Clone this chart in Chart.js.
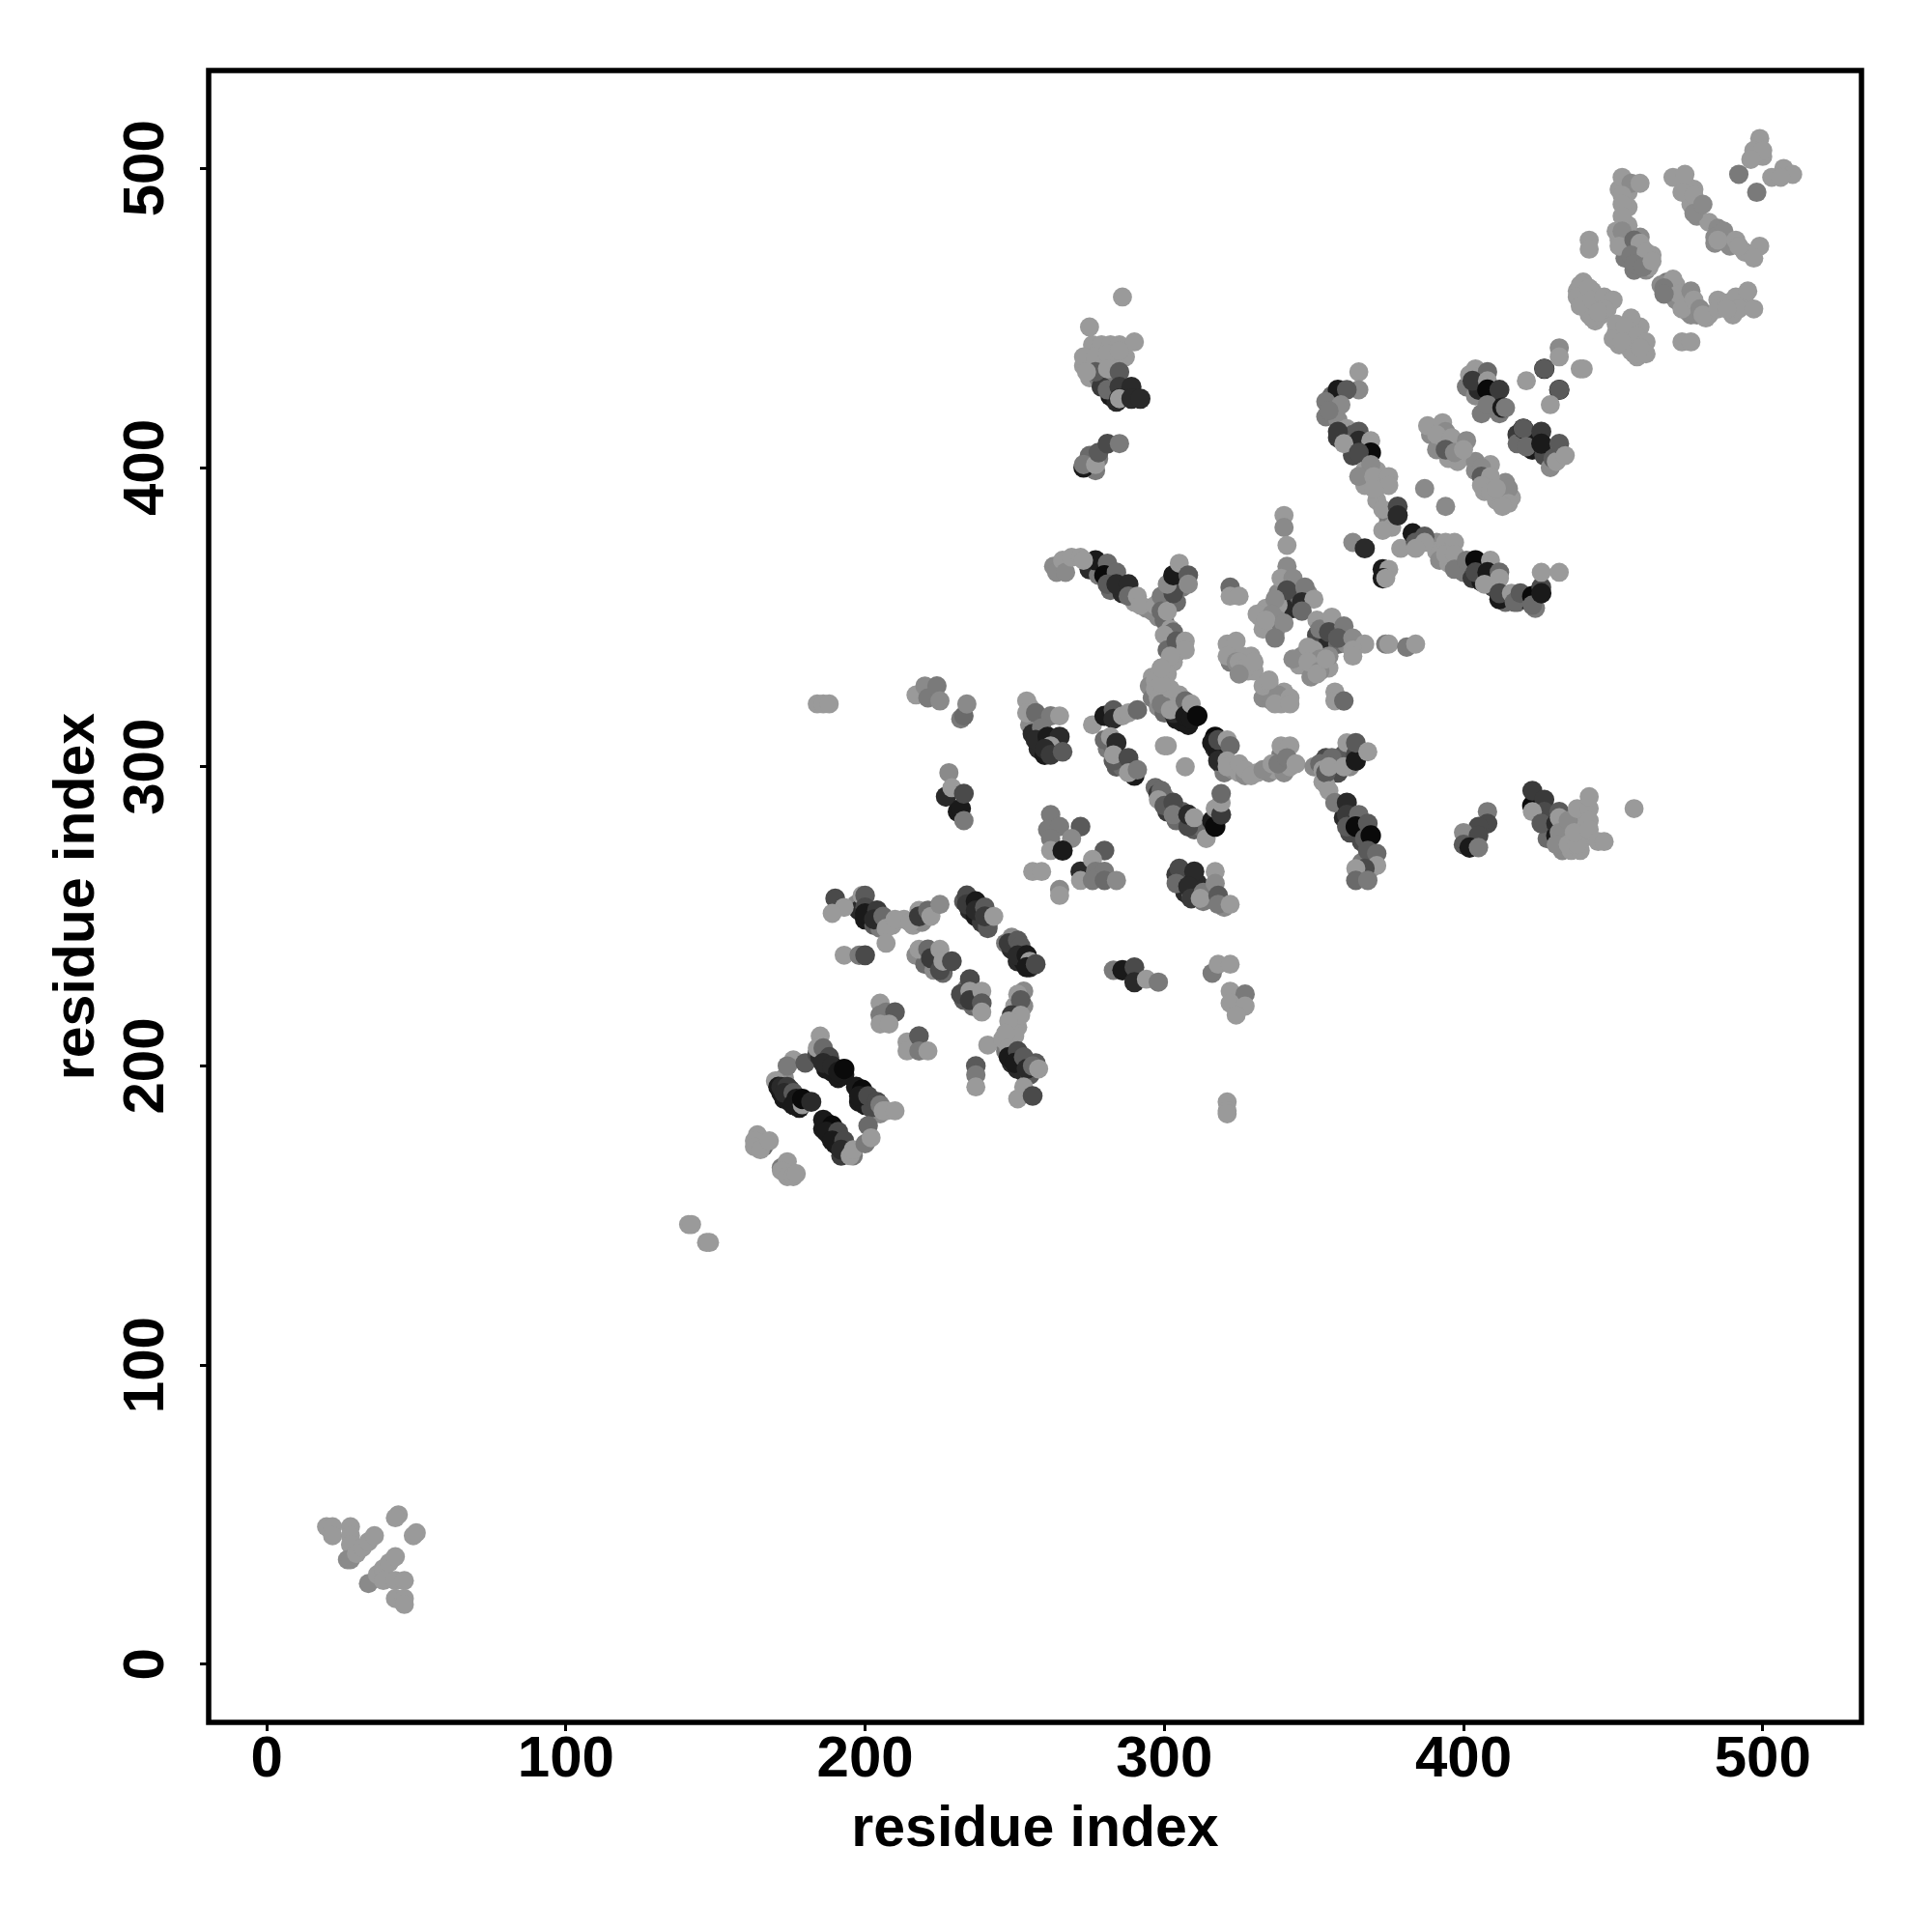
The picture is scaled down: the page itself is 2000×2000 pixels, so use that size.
<!DOCTYPE html>
<html>
<head>
<meta charset="utf-8">
<style>html,body{margin:0;padding:0;background:#fff}canvas{display:block}</style>
<script src="https://cdn.jsdelivr.net/npm/chart.js@4"></script>
</head>
<body>
<canvas id="c" width="2000" height="2000" style="width:2000px;height:2000px"></canvas>
<script>
// each contact: [residue x, residue y, coupling score 0..9]
const tickValues = [0, 100, 200, 300, 400, 500];
const axisLabel = "residue index";

const nTerminal = [[44,50,0],[43,49,0],[50,44,0],[49,43,0],[20,46,0],[22,46,0],[22,43,0],[28,46,0],[28,43,0],[28,40,0],[27,35,1],[28,35,1],[30,37,0],[32,39,0],[34,41,0],[36,43,0],[34,27,1],[37,30,0],[39,32,0],[41,34,0],[43,36,0],[39,28,0],[43,28,0],[46,28,0],[43,22,0],[46,22,0],[46,20,0]];
const isolatedLow = [[141,147,0],[142,147,0],[147,141,0],[148,141,0],[321,188,0],[321,185,0],[321,184,0]];
const lowHelix = [[166,173,3],[164,177,0],[163,175,0],[163,173,0],[165,172,0],[168,175,0],[172,166,2],[174,168,0],[172,165,0],[174,163,0],[176,163,0],[177,164,0]];
const sheetAFill = [[171,195,1],[173,196,1],[173,189,8],[175,188,8],[178,186,8],[172,191,8],[175,192,6]];
const sheetA = [[176,202,0],[174,200,2],[180,201,4],[170,195,0],[171,193,8],[172,193,7],[174,193,6],[173,191,7],[176,191,4],[177,189,8],[176,187,8],[179,187,0],[179,189,9],[182,188,7]];
const sheetBFill = [[184,204,5],[185,203,7],[187,199,8],[189,198,8],[191,196,8],[193,197,8],[188,201,8]];
const sheetB = [[185,210,0],[184,206,0],[186,206,3],[188,203,5],[186,201,7],[189,200,7],[191,198,8],[193,199,9]];
const sheetCFill = [[197,193,8],[198,188,8],[200,187,8],[203,185,3],[205,184,1],[202,186,5]];
const sheetC = [[199,192,9],[198,190,8],[201,190,5],[204,188,5],[205,187,2],[206,185,0],[207,185,0],[210,185,0]];
const sheetDFill = [[186,182,8],[186,179,8],[188,177,8],[190,174,8],[192,170,6],[194,171,3],[196,170,2]];
const sheetD = [[187,181,8],[189,180,9],[187,178,8],[191,178,5],[189,175,8],[193,175,5],[192,172,7],[195,170,0],[196,172,0],[201,180,3],[200,174,2],[202,176,0]];
const arcLeftFill = [[197,254,1],[198,252,7],[200,249,8],[203,247,4],[205,246,2],[207,248,1],[209,247,0],[213,249,0],[216,247,0],[219,248,1]];
const arcLeft = [[190,256,5],[193,253,0],[189,251,0],[199,257,0],[200,257,4],[200,253,5],[200,251,8],[204,252,6],[203,249,7],[206,250,3],[207,246,0],[210,249,0],[215,248,0],[218,252,0],[218,250,6],[221,252,3],[222,250,0],[225,254,1],[207,241,0],[193,237,0],[198,237,2],[200,237,5]];
const arcMiddleFill = [[233,255,4],[235,252,7],[237,250,8],[239,248,6],[241,246,4],[217,237,1],[220,234,3],[223,232,1],[226,231,3]];
const arcMiddle = [[218,239,0],[221,239,3],[222,236,6],[225,232,5],[225,239,0],[226,235,0],[229,235,5],[234,257,5],[234,254,6],[237,255,8],[237,252,7],[240,253,4],[241,247,4],[240,250,6],[243,250,0]];
const arcRightFill = [[247,241,2],[249,239,7],[251,235,7],[253,235,8],[255,233,7],[234,226,2],[233,222,4],[236,220,3],[237,221,2]];
const arcRight = [[249,243,1],[248,241,6],[251,242,4],[252,240,4],[251,237,7],[254,237,8],[255,235,0],[254,233,8],[257,234,5],[235,229,5],[232,224,5],[235,225,0],[235,222,6],[239,225,0],[239,221,4],[239,218,0]];
const turnAFill = [[250,220,0],[253,220,1],[251,213,0],[248,209,0]];
const turnA = [[253,225,1],[251,224,0],[252,222,4],[249,217,6],[252,217,0],[248,215,0],[250,210,0],[247,207,0],[241,207,0]];
const turnB = [[205,221,0],[205,217,2],[207,218,2],[210,218,4],[205,214,0],[208,214,0],[214,208,0],[214,205,0],[218,210,4],[218,205,2],[221,205,0],[237,200,4],[237,197,2],[237,193,0]];
const sheetEFill = [[247,205,2],[249,201,7],[251,199,7],[253,198,7],[255,197,4],[246,209,0],[247,211,0]];
const sheetE = [[248,206,0],[248,203,8],[251,205,5],[250,201,8],[253,203,4],[254,199,7],[257,201,4],[256,200,3],[258,199,0],[253,193,0],[251,189,0],[256,190,5]];
const bridgeA = [[184,321,0],[186,321,0],[188,321,0],[217,324,0],[220,327,1],[221,323,2],[224,327,2],[225,322,1],[232,316,2],[233,317,3],[234,321,1],[228,298,1],[227,290,7],[229,293,0],[231,285,8],[232,286,8],[233,291,5],[233,282,2]];
const clusterAFill = [[255,320,0],[255,314,1],[256,311,7],[258,306,7],[260,304,8],[262,306,7],[264,307,7]];
const clusterA = [[254,322,0],[254,318,0],[257,318,3],[262,317,2],[265,317,0],[259,313,2],[257,309,7],[261,310,8],[265,310,7],[262,307,0],[260,306,7],[262,304,6],[266,305,4]];
const clusterBFill = [[281,306,2],[283,306,3],[285,303,4],[284,300,4],[286,300,3],[289,300,4],[290,297,8]];
const clusterB = [[276,314,0],[280,317,8],[283,319,4],[283,316,7],[286,317,0],[288,318,0],[291,319,3],[280,309,3],[282,310,0],[284,308,7],[283,302,4],[283,304,0],[288,303,5],[288,298,0],[291,299,2]];
const clusterCFill = [[297,293,3],[300,290,2],[301,285,6],[304,282,3],[306,285,4],[310,279,4],[312,280,3]];
const clusterC = [[298,291,6],[299,292,3],[298,289,0],[300,287,4],[303,288,5],[303,284,2],[308,280,5],[308,284,7],[310,283,0],[314,276,0],[316,282,8],[317,280,9],[317,286,0],[319,284,6],[319,288,0],[319,291,3]];
const upperArcFill = [[296,330,0],[295,327,1],[296,323,2],[298,320,1],[300,318,3],[301,323,1],[303,322,0],[305,324,0],[304,316,8],[306,315,8],[308,314,8],[300,330,0]];
const upperArc = [[302,336,0],[299,333,0],[297,329,0],[297,326,0],[298,323,0],[299,321,2],[302,326,0],[303,318,7],[302,319,0],[305,320,0],[307,322,3],[307,317,8],[309,316,8],[309,321,0],[311,317,9]];
const waveFill = [[317,306,7],[318,305,8],[319,301,7],[320,298,2],[323,299,1],[325,298,0],[327,297,1],[331,298,0],[335,298,1],[337,299,0],[340,298,1],[342,300,0],[339,304,2]];
const wave = [[317,310,9],[316,308,8],[318,309,5],[321,309,0],[322,307,3],[318,302,7],[321,302,0],[321,300,0],[325,301,0],[327,299,0],[329,297,0],[333,299,1],[336,301,0],[338,301,2],[339,307,0],[342,307,0],[341,303,2],[344,301,0],[300,307,0],[301,307,0],[307,300,0]];
const rightArcFill = [[354,303,5],[356,301,6],[358,302,5],[360,304,4],[362,300,1],[353,295,0],[358,298,5],[350,300,1],[354,294,0],[360,283,7],[362,278,5],[366,275,5],[368,270,0],[366,268,2],[369,266,1]];
const rightArc = [[352,301,3],[353,299,0],[354,298,4],[356,303,3],[355,300,0],[360,300,0],[361,308,0],[364,304,5],[364,302,8],[364,308,4],[368,305,0],[355,292,0],[357,288,2],[361,288,7],[361,284,6],[361,280,4],[365,284,3],[364,280,9],[368,281,4],[367,276,4],[369,277,9],[368,272,4],[371,271,3],[371,267,0],[367,266,5],[364,266,0],[364,262,3],[368,262,2]];
const midLeft = [[262,284,2],[261,279,2],[265,280,2],[272,280,4],[262,276,2],[269,276,1],[262,272,0],[266,272,8],[256,265,0],[259,265,0],[265,259,1],[265,257,0],[272,265,7],[272,262,0],[280,272,4],[276,269,0],[277,265,2],[280,265,2],[276,262,2],[280,262,3],[284,262,1]];
const midRightFill = [[304,264,6],[306,263,7],[307,258,7],[311,261,7],[309,257,0],[313,255,2],[320,253,1]];
const midRight = [[305,266,5],[304,261,3],[310,265,7],[308,260,7],[309,256,6],[313,258,2],[312,256,0],[317,265,0],[317,261,1],[318,257,4],[318,254,2],[322,254,0],[283,232,2],[286,232,8],[290,233,5],[290,228,7],[294,229,0],[298,228,2],[316,231,2],[318,234,0],[322,234,0],[322,225,0],[327,224,2],[322,221,0],[327,220,0],[324,217,0]];
const topIslandFill = [[273,434,0],[276,441,0],[278,439,0],[283,438,0],[275,430,0],[278,430,2],[280,428,0],[283,435,0],[287,437,0],[283,429,2],[279,427,6],[282,424,8],[284,422,7],[287,424,7],[277,399,2],[275,402,4],[275,404,3],[278,403,2]];
const topIsland = [[286,457,0],[275,447,0],[279,441,0],[282,441,0],[285,441,0],[290,442,0],[273,437,0],[277,437,0],[281,438,0],[285,439,0],[277,432,4],[274,432,0],[281,433,0],[285,432,4],[281,426,3],[285,427,6],[289,427,7],[285,423,8],[285,423,0],[289,423,7],[292,423,7],[273,400,8],[273,401,2],[277,401,0],[278,405,4],[281,408,5],[285,408,2]];
const upperStrandFill = [[263,367,1],[264,365,1],[266,369,0],[267,365,1],[269,370,0],[272,370,0],[275,366,7],[278,364,2],[282,359,3],[286,358,7],[290,355,0],[294,353,1],[296,352,1],[298,350,1],[300,349,3],[302,355,3],[304,355,3],[306,360,2],[302,346,0],[303,345,3],[304,338,1],[303,335,0],[301,331,0],[299,328,0]];
const upperStrand = [[277,369,8],[273,369,0],[281,368,3],[280,364,9],[284,365,3],[281,361,4],[284,361,7],[288,361,7],[288,357,3],[291,357,0],[292,354,0],[297,354,0],[299,357,2],[299,352,3],[301,352,0],[303,358,5],[301,361,1],[303,364,8],[305,368,0],[308,364,4],[308,361,1],[300,344,0],[301,339,3],[304,342,4],[307,342,0],[307,339,0],[302,337,0],[299,333,0]];
const centreFill = [[338,358,1],[342,357,2],[343,353,7],[345,357,3],[348,358,1],[338,354,0],[334,353,0],[332,350,0],[338,349,1],[335,346,1],[337,345,2],[333,346,0]];
const centre = [[340,384,0],[340,380,1],[341,374,0],[341,367,1],[339,363,0],[343,363,1],[341,359,5],[347,360,2],[346,355,7],[350,356,0],[346,352,3],[322,360,3],[322,357,0],[325,357,0],[337,356,1],[331,351,0],[336,351,1],[334,349,0],[340,348,1],[337,343,2]];
const centreEastFill = [[351,344,5],[353,343,5],[355,342,7],[358,341,3],[361,341,1],[363,340,0],[351,349,0],[322,338,0],[326,337,0],[328,332,0],[322,335,2],[330,332,0],[333,323,1],[336,322,1],[339,321,0],[340,325,0],[345,334,0],[349,330,1],[355,333,0],[346,337,1],[350,339,0]];
const centreEast = [[352,346,2],[356,350,0],[355,345,5],[360,347,2],[358,343,4],[363,343,1],[367,341,0],[363,339,0],[374,341,2],[375,341,0],[381,340,2],[384,341,0],[321,341,0],[324,342,0],[321,337,0],[327,335,0],[324,335,1],[329,337,0],[325,335,0],[327,333,0],[325,331,1],[330,335,0],[333,327,0],[335,328,0],[338,324,1],[337,321,0],[342,323,0],[342,321,0],[357,325,0],[357,322,0],[360,322,3],[343,336,1],[348,340,0],[352,336,1],[355,337,1],[348,335,0],[352,332,1],[351,331,0],[354,336,0],[335,329,0],[363,337,0]];
const longStrandFill = [[356,424,3],[355,420,2],[354,417,2],[358,416,1],[358,410,6],[361,413,0],[363,411,4],[363,404,5],[363,408,3],[367,399,0],[371,399,0],[367,394,0],[372,394,0],[371,389,0],[374,385,0],[375,382,2],[376,380,0]];
const longStrand = [[365,432,0],[365,426,1],[358,426,8],[361,426,4],[354,422,2],[359,421,1],[355,419,2],[358,412,6],[365,412,4],[365,409,7],[360,408,0],[369,409,0],[369,405,9],[365,405,5],[369,401,1],[365,397,1],[370,397,0],[375,397,0],[375,394,0],[370,393,0],[373,386,0],[378,387,5],[378,384,7],[373,379,0],[387,393,1],[394,387,1]];
const crossingFill = [[391,375,1],[391,372,0],[392,369,1],[395,368,0],[398,367,1],[400,365,2],[403,363,6],[406,362,8],[410,360,5],[414,355,3],[418,355,3],[421,356,9],[424,353,2],[412,356,8]];
const crossing = [[363,375,1],[367,373,7],[373,366,8],[375,366,0],[373,363,8],[374,363,0],[379,373,0],[383,378,8],[387,377,4],[384,375,4],[387,375,0],[384,373,0],[394,375,0],[397,375,0],[394,371,0],[397,371,0],[397,366,2],[401,369,2],[404,369,9],[404,365,5],[409,369,0],[408,365,8],[407,361,0],[412,365,3],[412,363,0],[412,358,5],[416,358,0],[417,355,3],[419,358,4],[423,355,3],[425,358,6],[423,357,9],[423,354,3],[426,360,5],[426,358,8],[426,365,0],[432,365,0]];
const upperRightFill = [[401,427,2],[404,424,1],[405,426,7],[410,424,8],[406,418,2],[412,418,2],[418,411,6],[418,408,3],[423,406,8],[427,404,5],[429,400,1],[423,410,8]];
const upperRight = [[404,433,0],[402,431,0],[408,432,3],[403,429,6],[408,429,0],[408,426,9],[412,426,6],[408,421,2],[413,420,8],[414,420,2],[421,429,0],[427,433,8],[427,433,4],[432,440,1],[432,437,0],[439,433,0],[440,433,0],[432,426,8],[432,426,4],[429,421,0],[420,413,8],[420,413,4],[421,407,3],[426,412,6],[426,408,8],[430,403,4],[431,402,0],[432,408,4],[434,404,0]];
const cluster400Fill = [[389,411,1],[392,408,3],[395,403,0],[391,406,1],[398,402,0],[404,402,1],[404,399,1],[407,392,0],[411,389,0],[413,391,0],[416,390,0],[414,395,1]];
const cluster400 = [[388,414,0],[393,415,0],[394,412,1],[391,411,0],[396,410,0],[401,409,1],[394,406,4],[397,405,1],[400,406,0],[409,401,0],[406,400,1],[406,397,4],[409,397,0],[406,394,0],[409,392,0],[415,393,1],[415,388,0],[413,387,0],[411,393,0]];
const spreadLowFill = [[428,282,6],[429,279,3],[433,276,2],[434,279,1],[436,280,1],[438,283,0],[440,276,0],[440,280,0],[433,272,1],[436,272,0],[439,272,0],[428,276,3]];
const spreadLow = [[408,285,2],[408,281,5],[405,280,5],[400,278,1],[405,277,5],[400,274,4],[402,273,8],[405,273,2],[423,287,9],[423,292,6],[427,289,6],[427,285,5],[423,285,0],[426,281,4],[431,277,8],[431,281,7],[432,285,4],[432,283,0],[432,278,1],[431,274,1],[435,274,0],[435,282,1],[438,274,0],[438,286,0],[437,278,0],[442,286,0],[442,290,0],[442,282,0],[442,279,0],[445,275,0],[447,275,0],[457,286,0]];
const cTermWestFill = [[438,459,0],[441,457,0],[440,454,0],[442,451,0],[445,455,0],[444,449,0],[446,451,0],[448,453,0],[440,462,0],[443,459,0],[451,445,0],[452,441,0],[455,444,0],[456,441,0],[459,443,0],[455,447,0],[459,447,0],[460,440,0],[456,439,0],[458,437,0],[451,448,0]];
const cTermWest = [[442,476,0],[442,473,0],[439,461,0],[438,457,0],[442,460,0],[439,454,0],[443,456,0],[447,457,0],[450,456,0],[443,450,0],[447,453,0],[445,452,0],[456,450,0],[450,443,0],[454,447,0],[458,444,0],[453,442,0],[461,442,0],[457,438,0],[461,438,0],[459,440,0]];
const cTermStrandFill = [[452,493,0],[455,492,0],[455,487,0],[452,476,0],[454,470,2],[455,473,2],[458,472,1],[458,469,2],[461,466,1],[462,467,0],[457,466,2],[460,473,0],[463,471,0],[459,477,1],[455,481,0]];
const cTermStrand = [[453,497,0],[456,495,1],[459,495,0],[453,491,0],[453,488,0],[453,484,0],[451,479,0],[453,479,1],[452,474,0],[457,476,3],[459,475,0],[456,471,2],[461,472,0],[457,468,2],[460,467,2],[463,469,0]];
const cTermEastFill = [[474,495,0],[476,488,0],[478,484,1],[482,482,0],[485,480,1],[484,475,1],[489,474,1],[494,472,0],[477,493,0],[500,504,0]];
const cTermEast = [[470,497,0],[474,498,0],[473,492,0],[477,491,0],[477,485,1],[480,488,1],[484,477,1],[487,479,1],[485,476,0],[491,476,0],[492,474,0],[499,474,0],[497,470,0],[492,498,2],[498,492,2],[499,510,0],[497,506,0],[500,506,0],[496,503,0],[507,500,0],[503,497,0],[510,498,0],[506,497,0]];
const cTermWingFill = [[468,462,2],[466,461,1],[469,458,2],[471,461,0],[471,456,1],[474,457,1],[475,452,0],[478,451,1],[482,451,0],[485,456,0],[490,451,0],[494,455,0],[481,450,0],[476,451,1]];
const cTermWing = [[470,463,0],[467,460,2],[472,458,0],[476,459,1],[467,458,2],[473,453,0],[477,456,0],[479,453,1],[480,451,0],[485,453,0],[488,455,0],[491,457,0],[495,459,0],[492,453,0],[488,453,0],[497,453,0],[473,442,0],[476,442,0]];

const contacts = [].concat(nTerminal, isolatedLow, lowHelix, sheetAFill, sheetA, sheetBFill, sheetB, sheetCFill, sheetC, sheetDFill, sheetD, arcLeftFill, arcLeft, arcMiddleFill, arcMiddle, arcRightFill, arcRight, turnAFill, turnA, turnB, sheetEFill, sheetE, bridgeA, clusterAFill, clusterA, clusterBFill, clusterB, clusterCFill, clusterC, upperArcFill, upperArc, waveFill, wave, rightArcFill, rightArc, midLeft, midRightFill, midRight, topIslandFill, topIsland, upperStrandFill, upperStrand, centreFill, centre, centreEastFill, centreEast, longStrandFill, longStrand, crossingFill, crossing, upperRightFill, upperRight, cluster400Fill, cluster400, spreadLowFill, spreadLow, cTermWestFill, cTermWest, cTermStrandFill, cTermStrand, cTermEastFill, cTermEast, cTermWingFill, cTermWing);

function shade(score){ const g = 154 - 16 * score; return 'rgb(' + g + ',' + g + ',' + g + ')'; }

const framePlugin = {
  id: 'frame',
  afterDraw(chart){
    const a = chart.chartArea, ctx = chart.ctx;
    ctx.save();
    ctx.strokeStyle = '#000';
    ctx.lineWidth = 5.5;
    ctx.strokeRect(a.left, a.top, a.right - a.left, a.bottom - a.top);
    ctx.restore();
  }
};

const tickFont = { family: '"Liberation Sans"', size: 60, weight: 'bold' };
const titleFont = { family: '"Liberation Sans"', size: 59, weight: 'bold' };
const gridOpts = { display: true, drawOnChartArea: false, drawTicks: true, tickLength: 9, tickWidth: 3, tickColor: '#000' };

new Chart(document.getElementById('c'), {
  type: 'scatter',
  data: { datasets: [{
    data: contacts.map(p => ({ x: p[0], y: p[1] })),
    pointBackgroundColor: contacts.map(p => shade(p[2])),
    pointBorderWidth: 0,
    pointRadius: contacts.map(p => 9.9 + 0.08 * p[2]),
    pointHoverRadius: 10
  }]},
  options: {
    responsive: false,
    animation: false,
    devicePixelRatio: 1,
    layout: { padding: { left: 45, right: 73, top: 73, bottom: 70 } },
    plugins: { legend: { display: false }, tooltip: { enabled: false } },
    scales: {
      x: {
        type: 'linear', min: -19.4, max: 533,
        afterBuildTicks: s => { s.ticks = tickValues.map(v => ({ value: v })); },
        afterFit: s => { s.height = 147; },
        grid: gridOpts,
        border: { display: false },
        ticks: { color: '#000', font: tickFont, padding: -6, maxRotation: 0, autoSkip: false },
        title: { display: true, text: axisLabel, color: '#000', font: titleFont, padding: { top: 0, bottom: 0 } }
      },
      y: {
        type: 'linear', min: -19.4, max: 532.7,
        afterBuildTicks: s => { s.ticks = tickValues.map(v => ({ value: v })); },
        afterFit: s => { s.width = 171; },
        grid: gridOpts,
        border: { display: false },
        ticks: { color: '#000', font: tickFont, padding: 4, minRotation: 90, maxRotation: 90, crossAlign: 'center', autoSkip: false },
        title: { display: true, text: axisLabel, color: '#000', font: titleFont, padding: { top: 0, bottom: 0 } }
      }
    }
  },
  plugins: [framePlugin]
});
</script>
</body>
</html>
